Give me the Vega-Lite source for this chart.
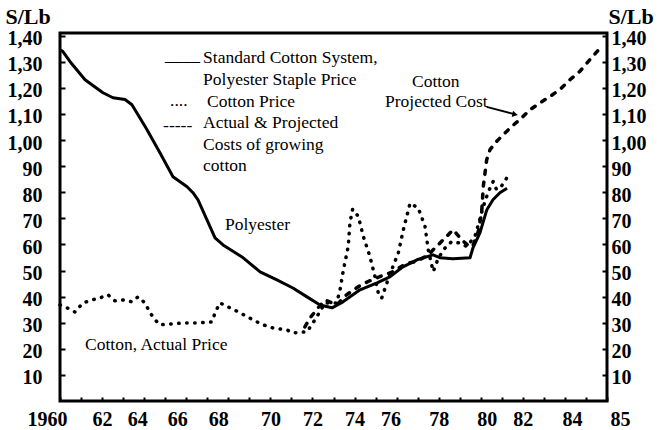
{
  "$schema": "https://vega.github.io/schema/vega-lite/v6.json",
  "width": 547,
  "height": 368,
  "autosize": {"type": "none"},
  "padding": {"left": 60, "top": 33, "right": 52, "bottom": 29},
  "background": "white",
  "view": {"stroke": "black", "strokeWidth": 3},
  "config": {"font": "Liberation Serif"},
  "datasets": {
    "polyester": [
      {"year": 1960.0, "value": 134.6}, {"year": 1960.14, "value": 133.9}, {"year": 1960.48, "value": 130.0},
      {"year": 1961.19, "value": 123.1}, {"year": 1962.04, "value": 118.1}, {"year": 1962.52, "value": 116.2},
      {"year": 1963.09, "value": 115.5}, {"year": 1963.42, "value": 113.5}, {"year": 1964.13, "value": 104.0},
      {"year": 1964.75, "value": 95.1}, {"year": 1965.37, "value": 85.9}, {"year": 1966.04, "value": 82.1},
      {"year": 1966.32, "value": 79.8}, {"year": 1966.56, "value": 77.1}, {"year": 1967.37, "value": 62.5},
      {"year": 1967.75, "value": 59.8}, {"year": 1968.65, "value": 55.2}, {"year": 1969.51, "value": 49.5},
      {"year": 1970.31, "value": 46.4}, {"year": 1971.07, "value": 43.3}, {"year": 1971.74, "value": 39.9},
      {"year": 1972.36, "value": 36.8}, {"year": 1972.93, "value": 35.7}, {"year": 1973.45, "value": 38.0},
      {"year": 1974.26, "value": 42.6}, {"year": 1975.07, "value": 45.3}, {"year": 1975.68, "value": 47.6},
      {"year": 1976.3, "value": 51.4}, {"year": 1976.97, "value": 54.1}, {"year": 1977.73, "value": 56.0},
      {"year": 1978.06, "value": 54.9}, {"year": 1978.68, "value": 54.5}, {"year": 1979.49, "value": 54.9},
      {"year": 1979.63, "value": 58.7}, {"year": 1979.96, "value": 64.4}, {"year": 1980.29, "value": 73.3},
      {"year": 1980.58, "value": 77.1}, {"year": 1980.91, "value": 79.8}, {"year": 1981.25, "value": 81.5}
    ],
    "cottonPrice": [
      {"year": 1960.0, "value": 36.8}, {"year": 1960.33, "value": 35.7}, {"year": 1960.71, "value": 34.1},
      {"year": 1961.09, "value": 37.6}, {"year": 1961.52, "value": 38.7}, {"year": 1961.9, "value": 39.5},
      {"year": 1962.28, "value": 40.7}, {"year": 1962.61, "value": 38.4}, {"year": 1962.99, "value": 38.7},
      {"year": 1963.42, "value": 38.0}, {"year": 1963.71, "value": 39.9}, {"year": 1964.04, "value": 37.6},
      {"year": 1964.28, "value": 33.8}, {"year": 1964.52, "value": 31.1}, {"year": 1964.75, "value": 29.2},
      {"year": 1965.23, "value": 29.5}, {"year": 1965.85, "value": 29.9}, {"year": 1966.51, "value": 29.9},
      {"year": 1967.22, "value": 30.3}, {"year": 1967.37, "value": 33.8}, {"year": 1967.6, "value": 37.6},
      {"year": 1968.08, "value": 35.7}, {"year": 1968.56, "value": 33.8}, {"year": 1969.17, "value": 31.1},
      {"year": 1969.65, "value": 29.2}, {"year": 1970.12, "value": 28.0}, {"year": 1970.79, "value": 27.2},
      {"year": 1971.07, "value": 26.1}, {"year": 1971.74, "value": 26.5}, {"year": 1972.12, "value": 31.1},
      {"year": 1972.6, "value": 37.6}, {"year": 1973.15, "value": 37.5}, {"year": 1973.31, "value": 42.6},
      {"year": 1973.47, "value": 50.2}, {"year": 1973.7, "value": 59.2}, {"year": 1973.78, "value": 68.2},
      {"year": 1973.91, "value": 73.5}, {"year": 1974.18, "value": 70.7}, {"year": 1974.42, "value": 63.0},
      {"year": 1974.73, "value": 55.4}, {"year": 1974.97, "value": 47.7}, {"year": 1975.13, "value": 41.3},
      {"year": 1975.29, "value": 39.4}, {"year": 1975.53, "value": 45.1}, {"year": 1975.76, "value": 50.2},
      {"year": 1976.08, "value": 56.7}, {"year": 1976.32, "value": 65.6}, {"year": 1976.64, "value": 75.8},
      {"year": 1977.03, "value": 73.9}, {"year": 1977.35, "value": 66.9}, {"year": 1977.5, "value": 58.0},
      {"year": 1977.74, "value": 49.6}, {"year": 1977.98, "value": 54.7}, {"year": 1978.3, "value": 58.6},
      {"year": 1978.62, "value": 61.1}, {"year": 1979.01, "value": 60.5}, {"year": 1979.33, "value": 59.2},
      {"year": 1979.72, "value": 63.0}, {"year": 1979.88, "value": 67.5}, {"year": 1980.1, "value": 74.0},
      {"year": 1980.35, "value": 80.0}, {"year": 1980.59, "value": 84.1}, {"year": 1980.75, "value": 81.0},
      {"year": 1981.0, "value": 82.5}, {"year": 1981.23, "value": 85.4}, {"year": 1981.39, "value": 87.3}
    ],
    "costs": [
      {"year": 1971.64, "value": 28.4}, {"year": 1971.88, "value": 31.8}, {"year": 1972.3, "value": 36.0},
      {"year": 1972.6, "value": 38.7}, {"year": 1973.15, "value": 36.8}, {"year": 1973.62, "value": 40.7},
      {"year": 1974.18, "value": 43.8}, {"year": 1974.65, "value": 45.8}, {"year": 1975.21, "value": 47.7},
      {"year": 1975.84, "value": 49.6}, {"year": 1976.48, "value": 52.8}, {"year": 1976.95, "value": 53.4},
      {"year": 1977.5, "value": 56.0}, {"year": 1977.82, "value": 58.6}, {"year": 1978.22, "value": 61.8},
      {"year": 1978.69, "value": 65.6}, {"year": 1979.09, "value": 61.8}, {"year": 1979.49, "value": 58.9},
      {"year": 1979.64, "value": 59.8}, {"year": 1979.88, "value": 64.9}, {"year": 1980.04, "value": 72.0},
      {"year": 1980.12, "value": 82.2}, {"year": 1980.2, "value": 87.3}, {"year": 1980.28, "value": 92.4},
      {"year": 1980.44, "value": 96.3}, {"year": 1980.76, "value": 99.5}, {"year": 1980.99, "value": 101.4},
      {"year": 1981.47, "value": 105.2}, {"year": 1981.86, "value": 107.8}, {"year": 1982.34, "value": 111.6},
      {"year": 1982.81, "value": 114.2}, {"year": 1983.29, "value": 116.7}, {"year": 1983.76, "value": 119.3},
      {"year": 1984.24, "value": 123.1}, {"year": 1984.71, "value": 126.3}, {"year": 1985.19, "value": 130.8},
      {"year": 1985.75, "value": 135.9}
    ],
    "labels": [
      {"year": 1964.99, "value": 132.3, "label": "____"},
      {"year": 1966.8, "value": 131.5, "label": "Standard Cotton System,"},
      {"year": 1966.8, "value": 123.1, "label": "Polyester Staple Price"},
      {"year": 1965.23, "value": 115.1, "label": "...."},
      {"year": 1966.99, "value": 114.7, "label": "Cotton Price"},
      {"year": 1964.9, "value": 105.5, "label": "-----"},
      {"year": 1966.8, "value": 106.6, "label": "Actual & Projected"},
      {"year": 1966.8, "value": 98.2, "label": "Costs of growing"},
      {"year": 1966.8, "value": 90.1, "label": "cotton"},
      {"year": 1976.73, "value": 122.4, "label": "Cotton"},
      {"year": 1975.45, "value": 114.7, "label": "Projected Cost"},
      {"year": 1967.84, "value": 67.5, "label": "Polyester"},
      {"year": 1961.19, "value": 21.5, "label": "Cotton, Actual Price"}
    ],
    "arrow": [
      {"year": 1980.28, "value": 112.7, "year2": 1981.55, "value2": 110.0}
    ],
    "arrowHead": [
      {"year": 1981.63, "value": 109.8}
    ]
  },
  "resolve": {"axis": {"y": "independent"}},
  "encoding": {
    "x": {
      "field": "year", "type": "quantitative",
      "scale": {"domain": [1960, 1986], "nice": false, "zero": false},
      "axis": {
        "values": [1960,1961,1962,1963,1964,1965,1966,1967,1968,1969,1970,1971,1972,1973,1974,1975,1976,1977,1978,1979,1980,1981,1982,1983,1984,1985,1986],
        "labelExpr": "datum.value == 1960 ? '1960' : ((datum.value % 2 == 0 && datum.value < 1985) || datum.value == 1985) ? format(datum.value % 100, '02d') : ''",
        "labelFont": "Liberation Serif", "labelFontWeight": "bold", "labelFontSize": 20, "labelColor": "black",
        "labelOverlap": false, "labelFlush": false, "labelBaseline": "top", "labelPadding": 12,
        "labelOffset": {"condition": [
          {"test": "datum.value == 1960", "value": -13},
          {"test": "datum.value == 1964", "value": -7},
          {"test": "datum.value == 1966", "value": -9},
          {"test": "datum.value == 1968", "value": -10},
          {"test": "datum.value == 1976", "value": -6},
          {"test": "datum.value == 1980", "value": 6},
          {"test": "datum.value == 1984", "value": 7},
          {"test": "datum.value == 1985", "value": 34}
        ], "value": 0},
        "tickSize": -4, "tickWidth": 2, "tickColor": "black",
        "domain": false, "grid": false, "title": null
      }
    }
  },
  "layer": [
    {
      "data": {"name": "polyester"},
      "mark": {"type": "line", "stroke": "black", "strokeWidth": 3, "strokeJoin": "round"},
      "encoding": {
        "y": {
          "field": "value", "type": "quantitative",
          "scale": {"domain": [0, 141], "nice": false, "zero": false},
          "axis": {
            "orient": "left",
            "values": [10,20,30,40,50,60,70,80,90,100,110,120,130,140],
            "labelExpr": "datum.value >= 100 ? replace(format(datum.value / 100, '.2f'), '.', ',') : format(datum.value, 'd')",
            "labelFont": "Liberation Serif", "labelFontWeight": "bold", "labelFontSize": 20, "labelColor": "black",
            "labelPadding": 23, "labelOverlap": false, "labelFlush": false, "labelOffset": 3,
            "tickSize": -5, "tickWidth": 2, "tickColor": "black",
            "domain": false, "grid": false,
            "title": "S/Lb", "titleAngle": 0, "titleFont": "Liberation Serif", "titleFontSize": 22,
            "titleFontWeight": "bold", "titleColor": "black", "titleAlign": "left", "titleBaseline": "middle",
            "titleX": -55, "titleY": -17
          }
        }
      }
    },
    {
      "data": {"name": "costs"},
      "mark": {"type": "line", "stroke": "black", "strokeWidth": 3.5, "strokeDash": [4, 8], "strokeCap": "round"},
      "encoding": {
        "y": {
          "field": "value", "type": "quantitative",
          "axis": {
            "orient": "right",
            "values": [10,20,30,40,50,60,70,80,90,100,110,120,130,140],
            "labelExpr": "datum.value >= 100 ? replace(format(datum.value / 100, '.2f'), '.', ',') : format(datum.value, 'd')",
            "labelFont": "Liberation Serif", "labelFontWeight": "bold", "labelFontSize": 20, "labelColor": "black",
            "labelPadding": 9, "labelOverlap": false, "labelFlush": false, "labelOffset": 3,
            "tickSize": -5, "tickWidth": 2, "tickColor": "black",
            "domain": false, "grid": false,
            "title": "S/Lb", "titleAngle": 0, "titleFont": "Liberation Serif", "titleFontSize": 22,
            "titleFontWeight": "bold", "titleColor": "black", "titleAlign": "left", "titleBaseline": "middle",
            "titleX": 1, "titleY": -17
          }
        }
      }
    },
    {
      "data": {"name": "cottonPrice"},
      "mark": {"type": "line", "stroke": "black", "strokeWidth": 3.5, "strokeDash": [0.5, 7.5], "strokeCap": "round"},
      "encoding": {
        "y": {"field": "value", "type": "quantitative", "axis": null}
      }
    },
    {
      "data": {"name": "labels"},
      "mark": {"type": "text", "align": "left", "baseline": "middle", "font": "Liberation Serif", "fontSize": 17.5, "color": "black"},
      "encoding": {
        "y": {"field": "value", "type": "quantitative", "axis": null},
        "text": {"field": "label"}
      }
    },
    {
      "data": {"name": "arrow"},
      "mark": {"type": "rule", "stroke": "black", "strokeWidth": 2},
      "encoding": {
        "x2": {"field": "year2"},
        "y": {"field": "value", "type": "quantitative", "axis": null},
        "y2": {"field": "value2"}
      }
    },
    {
      "data": {"name": "arrowHead"},
      "mark": {"type": "point", "shape": "triangle-right", "filled": true, "color": "black", "size": 40, "angle": 12, "opacity": 1},
      "encoding": {
        "y": {"field": "value", "type": "quantitative", "axis": null}
      }
    }
  ]
}
